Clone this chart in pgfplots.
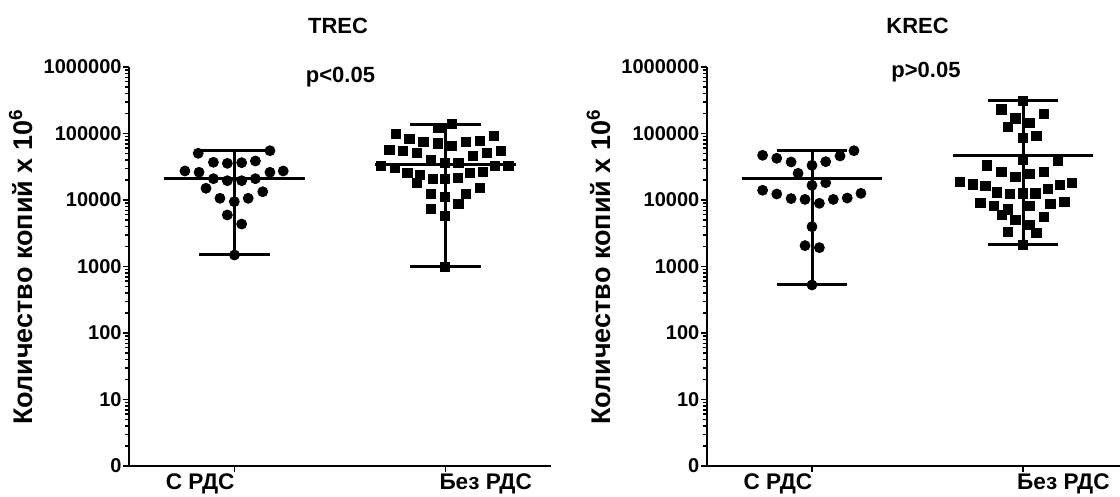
\documentclass[border=0pt]{standalone}
\usepackage{fontspec}
\setmainfont{Liberation Sans}
\usepackage{pgfplots}
\pgfplotsset{compat=1.18}
\usepackage{pgfplotstable}

% TREC, group with RDS (circles)
\pgfplotstableread{
x y
0.328 50400
0.668 55100
0.400 36900
0.466 35600
0.534 36400
0.599 38600
0.265 27300
0.332 26100
0.668 26100
0.731 27300
0.400 20900
0.466 19500
0.534 19500
0.599 20900
0.365 15000
0.634 13300
0.431 10600
0.499 9430
0.565 10600
0.466 5950
0.534 4350
0.500 1490
}\trecA

% TREC, group without RDS (squares)
\pgfplotstableread{
x y
1.529 139000
1.466 119700
1.265 98300
1.329 81800
1.395 75300
1.463 71200
1.529 64900
1.597 73800
1.664 78000
1.730 91700
1.234 56500
1.297 54600
1.363 50400
1.629 46400
1.698 50400
1.763 55100
1.431 40000
1.498 36400
1.561 36400
1.193 32500
1.261 30000
1.798 32500
1.735 32500
1.319 25800
1.379 23800
1.363 18200
1.616 25800
1.676 26700
1.439 20700
1.498 20700
1.558 21200
1.664 15000
1.431 12300
1.498 11000
1.597 12300
1.431 7320
1.561 8620
1.498 5750
1.498 993
}\trecB

% KREC, group with RDS (circles)
\pgfplotstableread{
x y
0.265 47000
0.332 42400
0.400 37300
0.499 33200
0.564 37700
0.632 45900
0.698 55100
0.433 25200
0.499 16600
0.564 18200
0.265 14000
0.332 12300
0.400 10500
0.466 10200
0.534 8920
0.600 10200
0.666 10700
0.731 12600
0.499 3970
0.466 2060
0.534 1920
0.499 527
}\krecA

% KREC, group without RDS (squares)
\pgfplotstableread{
x y
1.500 311000
1.397 231000
1.463 169000
1.597 196000
1.429 127000
1.531 146000
1.500 86500
1.563 92700
1.500 40900
1.664 38600
1.329 33200
1.397 26100
1.463 22400
1.531 24900
1.597 26700
1.199 18700
1.261 17200
1.321 16200
1.376 13000
1.436 12400
1.500 12600
1.558 12600
1.618 14800
1.673 16800
1.732 18000
1.297 8920
1.360 8130
1.429 7240
1.531 8130
1.629 8710
1.695 9430
1.400 5950
1.463 5000
1.597 5610
1.531 4210
1.429 3340
1.563 3230
1.500 2130
}\krecB

\pgfplotsset{
  every axis/.append style={
    scale only axis, width=211pt, height=199.5pt,
    ymin=1, ymax=1000000, xmin=0, xmax=2,
    axis x line*=bottom, axis y line*=left,
    axis line style={line width=1pt},
    ytick={1,10,100,1000,10000,100000,1000000},
    yticklabels={0,10,100,1000,10000,100000,1000000},
    minor ytick={2,3,4,5,6,7,8,9,20,30,40,50,60,70,80,90,
      200,300,400,500,600,700,800,900,2000,3000,4000,5000,6000,7000,8000,9000,
      20000,30000,40000,50000,60000,70000,80000,90000,
      200000,300000,400000,500000,600000,700000,800000,900000},
    xtick={0.5,1.5},
    xticklabels={\llap{С РДС},\rlap{\hspace{-3pt}Без РДС}},
    tick align=outside,
    major tick length=3pt, minor tick length=2pt,
    tick style={black, line width=0.75pt},
    yticklabel style={inner sep=0.5pt, font=\bfseries\fontsize{10}{12}\selectfont},
    xticklabel style={inner sep=0pt, yshift=-0.5pt, font=\bfseries\fontsize{11.3}{13}\selectfont},
    clip=false},
}

\tikzset{
  mywhisker/.style={black, line width=1.5pt},
  mydots/.style={only marks, mark=*, mark size=2.5pt, black},
  myboxes/.style={only marks, mark=square*, mark size=2.3pt, black},
}

\begin{document}
\begin{tikzpicture}
% ---------- TREC ----------
\begin{semilogyaxis}[at={(64.5pt,15.5pt)}, anchor=south west]
  % group with RDS: range and centre line
  \addplot[mywhisker] coordinates {(0.5,1490) (0.5,55100)};
  \addplot[mywhisker] coordinates {(0.333,55100) (0.667,55100)};
  \addplot[mywhisker] coordinates {(0.333,1490) (0.667,1490)};
  \addplot[mywhisker] coordinates {(0.168,21200) (0.832,21200)};
  \addplot[mydots] table[x=x,y=y]{\trecA};
  % group without RDS
  \addplot[mywhisker] coordinates {(1.5,993) (1.5,137000)};
  \addplot[mywhisker] coordinates {(1.333,137000) (1.667,137000)};
  \addplot[mywhisker] coordinates {(1.333,993) (1.667,993)};
  \addplot[mywhisker] coordinates {(1.168,34400) (1.832,34400)};
  \addplot[myboxes] table[x=x,y=y]{\trecB};
\end{semilogyaxis}
% ---------- KREC ----------
\begin{semilogyaxis}[at={(353.35pt,15.5pt)}, anchor=south west]
  \addplot[mywhisker] coordinates {(0.5,527) (0.5,55100)};
  \addplot[mywhisker] coordinates {(0.333,55100) (0.667,55100)};
  \addplot[mywhisker] coordinates {(0.333,527) (0.667,527)};
  \addplot[mywhisker] coordinates {(0.168,20750) (0.832,20750)};
  \addplot[mydots] table[x=x,y=y]{\krecA};
  \addplot[mywhisker] coordinates {(1.5,2130) (1.5,311000)};
  \addplot[mywhisker] coordinates {(1.333,311000) (1.667,311000)};
  \addplot[mywhisker] coordinates {(1.333,2130) (1.667,2130)};
  \addplot[mywhisker] coordinates {(1.168,46400) (1.832,46400)};
  \addplot[myboxes] table[x=x,y=y]{\krecB};
\end{semilogyaxis}
% titles, p-values and axis titles
\node[font=\bfseries\fontsize{11}{13}\selectfont, anchor=base] at (169pt,231.5pt) {TREC};
\node[font=\bfseries\fontsize{11}{13}\selectfont, anchor=base] at (458.8pt,231.5pt) {KREC};
\node[font=\bfseries\fontsize{11}{13}\selectfont, anchor=base] at (170.25pt,207pt) {p<0.05};
\node[font=\bfseries\fontsize{11}{13}\selectfont, anchor=base] at (463pt,209.75pt) {p>0.05};
\node[font=\bfseries\fontsize{13.5}{15}\selectfont, rotate=90] at (10.5pt,115pt) {Количество копий х 10\textsuperscript{6}};
\node[font=\bfseries\fontsize{13.5}{15}\selectfont, rotate=90] at (299.3pt,115pt) {Количество копий х 10\textsuperscript{6}};
\pgfresetboundingbox
\path[use as bounding box] (0,0) rectangle (560pt,248.5pt);
\end{tikzpicture}
\end{document}
